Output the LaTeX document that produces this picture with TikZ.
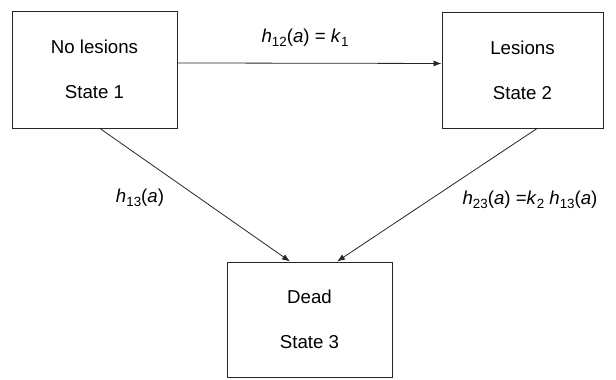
\documentclass[tikz,border=0pt]{standalone}
\usepackage{fontspec}
\setmainfont{Liberation Sans}
\usetikzlibrary{arrows.meta}
\newcommand\mysub[1]{\raisebox{-0.45ex}{\fontsize{10}{12}\selectfont #1}}
\begin{document}
\begin{tikzpicture}[x=0.75pt,y=-0.75pt,
  statebox/.style={draw=black!85, line width=0.75pt, rectangle, align=center,
    font=\fontsize{14}{33.75}\selectfont, inner sep=0pt},
  conn/.style={draw=black!85, line width=0.6pt, -{Latex[length=6pt,width=4.5pt]}},
  lab/.style={font=\fontsize{14}{17}\selectfont, inner sep=0pt}]
\useasboundingbox (0,0) rectangle (616,379);
\node[statebox, minimum width=123.75pt, minimum height=87.75pt] (s1) at (94.5,69.5) {No lesions\\State 1};
\node[statebox, minimum width=120.75pt, minimum height=87pt] (s2) at (522.5,70) {Lesions\\State 2};
\node[statebox, minimum width=123.75pt, minimum height=86.25pt] (s3) at (309.5,319.5) {Dead\\State 3};
\draw[conn] ([yshift=4.9pt]s1.east) -- ([yshift=4.9pt]s2.west);
\draw[conn] ([xshift=4.1pt]s1.south) -- ([xshift=-14.6pt]s3.north);
\draw[conn] ([xshift=10.9pt]s2.south) -- ([xshift=20.6pt]s3.north);
\node[lab] (l12) at (305,38) {\textit{h}\mysub{12}(\textit{a}) = \textit{k}\mysub{1}};
\node[lab] (l13) at (140,198) {\textit{h}\mysub{13}(\textit{a})};
\node[lab] (l23) at (530,200) {\textit{h}\mysub{23}(\textit{a}) =\textit{k}\mysub{2} \textit{h}\mysub{13}(\textit{a})};
\end{tikzpicture}
\end{document}
